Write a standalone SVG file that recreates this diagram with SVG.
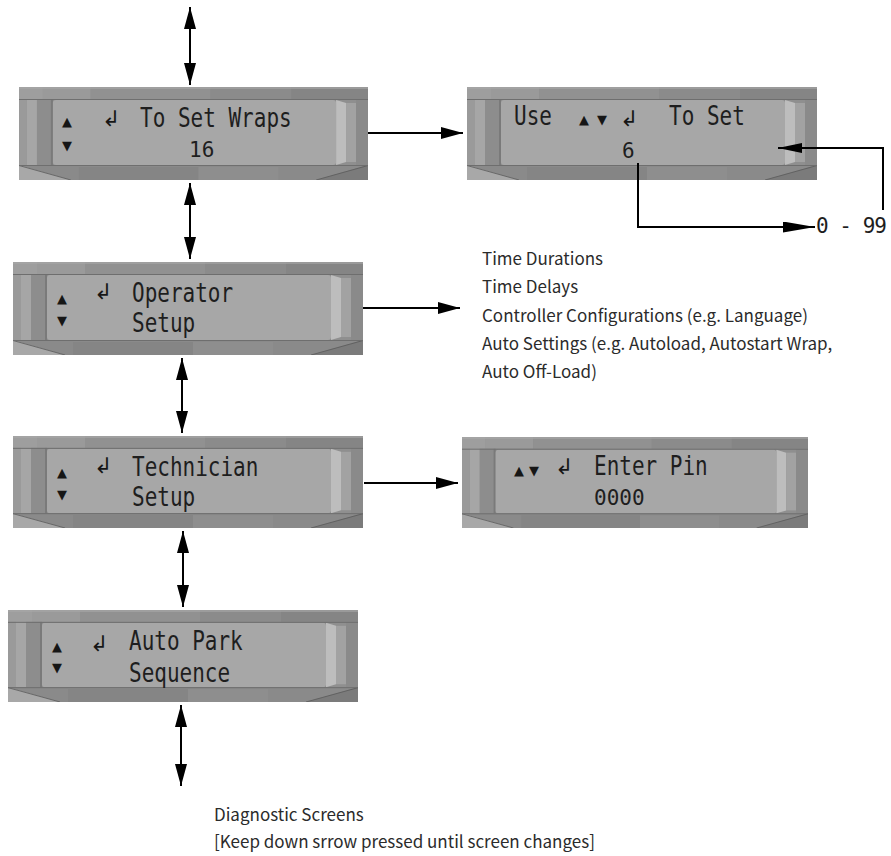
<svg xmlns="http://www.w3.org/2000/svg" width="891" height="856" viewBox="0 0 891 856">
<style>
.lcd{font-family:"DejaVu Sans Mono","Liberation Mono",monospace;font-size:21px;fill:#1e1e1e}
.sym{font-family:"DejaVu Sans","Noto Sans",sans-serif;fill:#161616}
.tri{font-size:13px;text-anchor:middle}
.ret{font-size:22px}
.note{font-family:"Noto Sans CJK SC","Noto Sans",sans-serif;font-size:17px;fill:#2b2b2b}
.ln{fill:none;stroke:#000;stroke-width:2}
</style>
<defs>
<marker id="ah" viewBox="0 0 22 12" markerWidth="22" markerHeight="12" refX="22" refY="6" orient="auto-start-reverse" markerUnits="userSpaceOnUse"><path d="M0,0 L22,6 L0,12 z" fill="#000"/></marker>
<marker id="ahl" viewBox="0 0 32 11" markerWidth="32" markerHeight="11" refX="32" refY="5.5" orient="auto" markerUnits="userSpaceOnUse"><path d="M0,0 L32,5.5 L0,11 z" fill="#000"/></marker>
<marker id="ahm" viewBox="0 0 24 10" markerWidth="24" markerHeight="10" refX="24" refY="5" orient="auto" markerUnits="userSpaceOnUse"><path d="M0,0 L24,5 L0,10 z" fill="#000"/></marker>
<symbol id="frame" viewBox="0 0 350 93" preserveAspectRatio="none">
<rect x="0" y="0" width="350" height="93" fill="#8c8c8c"/>
<rect x="0" y="0" width="24" height="12" fill="#9e9e9e"/>
<rect x="24" y="0" width="48" height="12" fill="#9a9a9a"/>
<rect x="72" y="0" width="120" height="12" fill="#919191"/>
<rect x="192" y="0" width="81" height="12" fill="#8b8b8b"/>
<rect x="273" y="0" width="77" height="12" fill="#858585"/>
<rect x="0" y="0" width="350" height="2" fill="#a8a8a8" opacity="0.6"/>
<rect x="0" y="12" width="8" height="66" fill="#9a9a9a"/>
<rect x="8" y="12" width="10" height="66" fill="#a6a6a6"/>
<rect x="18" y="12" width="14" height="66" fill="#8d8d8d"/>
<rect x="32" y="12" width="2" height="66" fill="#7a7a7a"/>
<rect x="318" y="12" width="32" height="66" fill="#8f8f8f"/>
<polygon points="318,13 328,16 328,75 318,78" fill="#bdbdbd"/>
<rect x="328" y="16" width="10" height="59" fill="#a2a2a2"/>
<rect x="338" y="12" width="12" height="66" fill="#8a8a8a"/>
<rect x="34" y="13" width="284" height="65" rx="3" fill="#a7a7a7"/>
<rect x="0" y="78" width="350" height="15" fill="#8a8a8a"/>
<rect x="60" y="80" width="120" height="13" fill="#858585"/>
<rect x="180" y="80" width="80" height="13" fill="#8e8e8e"/>
<polygon points="0,78 0,93 52,93" fill="#a8a8a8"/>
<polygon points="350,78 350,93 298,93" fill="#7b7b7b"/>
<line x1="0" y1="78.5" x2="52" y2="93" stroke="#5a5a5a" stroke-width="0.8"/>
<line x1="350" y1="78.5" x2="298" y2="93" stroke="#5a5a5a" stroke-width="0.8"/>
<line x1="0" y1="12.5" x2="350" y2="12.5" stroke="#6e6e6e" stroke-width="1"/>
<line x1="0" y1="78.5" x2="350" y2="78.5" stroke="#6e6e6e" stroke-width="1"/>
</symbol>
</defs>
<rect width="891" height="856" fill="#fff"/>

<g id="node-wraps">
<use href="#frame" x="19" y="87" width="349" height="93"/>
<text class="sym tri" x="67" y="126">▲</text>
<text class="sym tri" x="67" y="150">▼</text>
<text class="sym ret" x="102" y="126">↲</text>
<text class="lcd" transform="translate(140,127) scale(1,1.25)">To Set Wraps</text>
<text class="lcd" x="189" y="157">16</text>
</g>

<g id="node-use">
<use href="#frame" x="467" y="87" width="350" height="93"/>
<text class="lcd" transform="translate(514,125) scale(1,1.25)">Use</text>
<text class="sym tri" x="584" y="124">▲</text>
<text class="sym tri" x="602" y="124">▼</text>
<text class="sym ret" x="620" y="126">↲</text>
<text class="lcd" transform="translate(669,125) scale(1,1.25)">To Set</text>
<text class="lcd" x="622" y="158">6</text>
</g>

<g id="node-range">
<text class="lcd" x="816" y="233" textLength="71" lengthAdjust="spacing">0 - 99</text>
</g>

<g id="node-operator">
<use href="#frame" x="13" y="262" width="350" height="93"/>
<text class="sym tri" x="62" y="303">▲</text>
<text class="sym tri" x="62" y="325">▼</text>
<text class="sym ret" x="94" y="299">↲</text>
<text class="lcd" transform="translate(132,302) scale(1,1.25)">Operator</text>
<text class="lcd" transform="translate(132,332) scale(1,1.25)">Setup</text>
</g>

<g id="node-operator-list">
<text class="note" x="482" y="265">Time Durations</text>
<text class="note" x="482" y="293">Time Delays</text>
<text class="note" x="482" y="322">Controller Configurations (e.g. Language)</text>
<text class="note" x="482" y="350">Auto Settings (e.g. Autoload, Autostart Wrap,</text>
<text class="note" x="482" y="378">Auto Off-Load)</text>
</g>

<g id="node-technician">
<use href="#frame" x="13" y="436" width="350" height="92"/>
<text class="sym tri" x="62" y="477">▲</text>
<text class="sym tri" x="62" y="499">▼</text>
<text class="sym ret" x="94" y="473">↲</text>
<text class="lcd" transform="translate(132,476) scale(1,1.25)">Technician</text>
<text class="lcd" transform="translate(132,506) scale(1,1.25)">Setup</text>
</g>

<g id="node-pin">
<use href="#frame" x="462" y="437" width="346" height="91"/>
<text class="sym tri" x="519" y="475">▲</text>
<text class="sym tri" x="534" y="475">▼</text>
<text class="sym ret" x="555" y="474">↲</text>
<text class="lcd" transform="translate(594,475) scale(1,1.25)">Enter Pin</text>
<text class="lcd" x="594" y="505">0000</text>
</g>

<g id="node-autopark">
<use href="#frame" x="8" y="610" width="350" height="92"/>
<text class="sym tri" x="57" y="651">▲</text>
<text class="sym tri" x="57" y="672">▼</text>
<text class="sym ret" x="90" y="651">↲</text>
<text class="lcd" transform="translate(129,650) scale(1,1.25)">Auto Park</text>
<text class="lcd" transform="translate(129,682) scale(1,1.25)">Sequence</text>
</g>

<g id="node-diagnostic">
<text class="note" x="214" y="821">Diagnostic Screens</text>
<text class="note" x="214" y="848">[Keep down srrow pressed until screen changes]</text>
</g>

<g id="connectors">
<path class="ln" d="M190,7 V85" marker-start="url(#ah)" marker-end="url(#ah)"/>
<path class="ln" d="M190,183 V259" marker-start="url(#ah)" marker-end="url(#ah)"/>
<path class="ln" d="M182,358 V433" marker-start="url(#ah)" marker-end="url(#ah)"/>
<path class="ln" d="M183,531 V607" marker-start="url(#ah)" marker-end="url(#ah)"/>
<path class="ln" d="M181,705 V786" marker-start="url(#ah)" marker-end="url(#ah)"/>
<path class="ln" d="M368,133 H463" marker-end="url(#ah)"/>
<path class="ln" d="M363,308 H460" marker-end="url(#ah)"/>
<path class="ln" d="M364,483 H458" marker-end="url(#ah)"/>
<path class="ln" d="M638,163 V227 H815" marker-end="url(#ahl)"/>
<path class="ln" d="M883,210 V148 H778" marker-end="url(#ahm)"/>
</g>
</svg>
